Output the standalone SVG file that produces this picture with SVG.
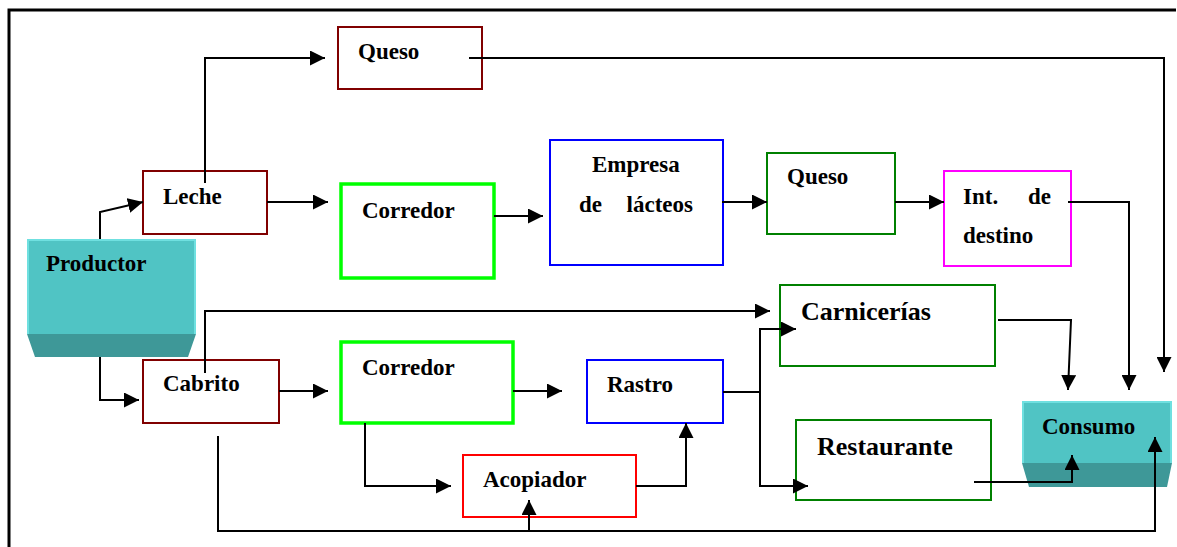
<svg xmlns="http://www.w3.org/2000/svg" width="1177" height="547" viewBox="0 0 1177 547">
<defs>
<style>
text{font-family:"Liberation Serif","Times New Roman",serif;font-weight:bold;font-size:23px;fill:#000}
.big{font-size:26px}
.box{fill:#fff;stroke-width:2}
.dr{stroke:#800000}
.lg{stroke:#00ff00;stroke-width:3.5}
.bl{stroke:#0000ff}
.gr{stroke:#008000}
.mg{stroke:#ff00ff}
.rd{stroke:#ff0000}
.front{fill:#50c4c4}
.bevel{fill:#3e9898}
.edge{fill:none;stroke:#6fe0e0;stroke-width:2}
#connectors path{fill:none;stroke:#000;stroke-width:2;marker-end:url(#arr)}
#connectors path.plain{marker-end:none}
</style>
<marker id="arr" markerUnits="userSpaceOnUse" markerWidth="15" markerHeight="15" refX="15" refY="7.5" orient="auto">
<path d="M0,0 L15,7.5 L0,15 z" fill="#000"/>
</marker>
</defs>
<rect width="1177" height="547" fill="#fff"/>
<path d="M9,547 V10 H1176" fill="none" stroke="#000" stroke-width="3"/>

<g id="productor">
<rect class="front" x="27" y="239" width="169" height="95"/>
<path class="edge" d="M28,334 V240 H195 V334"/>
<path class="bevel" d="M27,334 H196 L188,357 H35 z"/>
<text x="46" y="271">Productor</text>
</g>
<g id="leche"><rect class="box dr" x="143" y="171" width="124" height="63"/><text x="163" y="204">Leche</text></g>
<g id="queso1"><rect class="box dr" x="338" y="27" width="144" height="62"/><text x="358" y="59">Queso</text></g>
<g id="corredor1"><rect class="box lg" x="341" y="184" width="153" height="94"/><text x="362" y="218">Corredor</text></g>
<g id="empresa"><rect class="box bl" x="550" y="140" width="173" height="125"/><text x="592" y="172">Empresa</text><text x="579" y="212">de</text><text x="693" y="212" text-anchor="end">lácteos</text></g>
<g id="queso2"><rect class="box gr" x="767" y="153" width="128" height="81"/><text x="787" y="184">Queso</text></g>
<g id="intdestino"><rect class="box mg" x="944" y="171" width="127" height="95"/><text x="963" y="204">Int.</text><text x="1051" y="204" text-anchor="end">de</text><text x="963" y="243">destino</text></g>
<g id="cabrito"><rect class="box dr" x="143" y="360" width="136" height="63"/><text x="163" y="391">Cabrito</text></g>
<g id="corredor2"><rect class="box lg" x="341" y="342" width="172" height="81"/><text x="362" y="375">Corredor</text></g>
<g id="rastro"><rect class="box bl" x="587" y="360" width="136" height="63"/><text x="607" y="392">Rastro</text></g>
<g id="acopiador"><rect class="box rd" x="463" y="455" width="173" height="62"/><text x="483" y="487">Acopiador</text></g>
<g id="carnicerias"><rect class="box gr" x="780" y="285" width="215" height="81"/><text class="big" x="801" y="320">Carnicerías</text></g>
<g id="restaurante"><rect class="box gr" x="796" y="420" width="195" height="80"/><text class="big" x="817" y="455">Restaurante</text></g>
<g id="consumo">
<rect class="front" x="1022" y="401" width="150" height="62"/>
<path class="edge" d="M1023,463 V402 H1171 V463"/>
<path class="bevel" d="M1022,463 H1172 L1167,487 H1029 z"/>
<text x="1042" y="434">Consumo</text>
</g>

<g id="connectors">
<path d="M205,183 V58 H325"/>
<path d="M100,239 V212 L143,202"/>
<path d="M100,357 V400 H139"/>
<path d="M267,202 H328"/>
<path d="M494,216 H543"/>
<path d="M722,202 H767"/>
<path d="M895,202 H944"/>
<path d="M1068,202 H1129 V390"/>
<path d="M469,58 H1164 V372"/>
<path d="M998,320 H1071 L1068,390"/>
<path d="M205,373 V311 H770"/>
<path d="M279,391 H328"/>
<path d="M513,391 H562"/>
<path d="M365,423 V486 H451"/>
<path d="M636,486 H686 V423"/>
<path class="plain" d="M723,392 H760"/>
<path d="M760,392 V329 H796"/>
<path d="M760,392 V486 H808"/>
<path d="M974,482 H1072 V455"/>
<path d="M218,436 V531 H1155 V437"/>
<path d="M529,531 V500"/>
</g>
</svg>
